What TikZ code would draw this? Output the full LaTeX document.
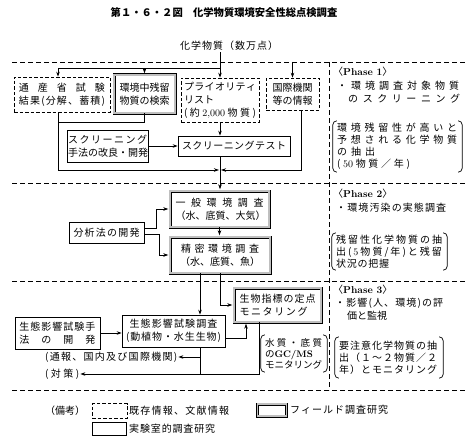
\documentclass[tikz,border=0pt]{standalone}
\usepackage{fontspec}
\newfontfamily\jp{Noto Sans CJK JP}
\usetikzlibrary{arrows.meta}
\makeatletter
\def\sp@next#1{\ifx\relax#1\else\hfil#1\expandafter\sp@next\fi}
\def\sp@first#1{#1\sp@next}
\newcommand\spread[2]{\makebox[#1][s]{\sp@first#2\relax}}
\makeatother
\newcommand\parens[1]{%
  \draw[pline,rounded corners=4pt] ([xshift=4pt]#1.north west) -- (#1.north west) -- (#1.south west) -- ([xshift=4pt]#1.south west);
  \draw[pline,rounded corners=4pt] ([xshift=-4pt]#1.north east) -- (#1.north east) -- (#1.south east) -- ([xshift=-4pt]#1.south east);}
\begin{document}
\begin{tikzpicture}[x=1pt,y=-1pt,
  jt/.style={font=\jp\fontsize{10}{13}\selectfont, inner sep=1pt, align=left},
  dbox/.style={jt, draw, line width=0.7pt, dash pattern=on 3.5pt off 2pt},
  sbox/.style={jt, draw, line width=0.7pt},
  fbox/.style={jt, draw, line width=0.6pt, double=gray!50, double distance=1.8pt},
  pblock/.style={jt, inner xsep=4pt, inner ysep=0pt, font=\jp\fontsize{10}{12}\selectfont},
  conn/.style={line width=0.7pt},
  arr/.style={conn, -{Stealth[length=5pt,width=3.5pt]}},
  farr/.style={arr, shorten >=1.4pt},
  sep/.style={line width=0.7pt, dash pattern=on 5pt off 3pt},
  pline/.style={line width=0.7pt}]
\useasboundingbox (0,0) rectangle (466,444);

% title
\node[font=\jp\bfseries\fontsize{10.3}{12}\selectfont, inner sep=0] (title) at (224,13) {第１・６・２図　化学物質環境安全性総点検調査};
\node[jt] (chem) at (229,46) {\spread{98pt}{化学物質（数万点）}};

% separators
\coordinate (s1) at (12,62);
\draw[sep] (s1) -- (466,62);
\draw[sep] (12,183) -- (466,183);
\draw[sep] (12,281) -- (466,281);
\draw[sep] (12,390) -- (466,390);
\draw[sep] (329,62) -- (329,390);

% phase 1 boxes
\node[dbox, minimum width=96pt, minimum height=35pt] (ts) at (62,94.5) {\spread{86pt}{通産省試験}\\\spread{86pt}{結果(分解、蓄積)}};
\node[fbox, minimum width=61pt, minimum height=38pt] (zr) at (144.5,94) {環境中残留\\物質の検索};
\node[dbox, minimum width=78pt, minimum height=44pt] (pri) at (220,100) {\spread{72pt}{プライオリティ}\\リスト\\\spread{72pt}{(約{{\rmfamily 2,000}}物質)}};
\node[dbox, minimum width=53pt, minimum height=32pt] (kk) at (292.5,94) {国際機関\\等の情報};
\node[sbox, minimum width=81pt, minimum height=32pt] (meth) at (107.5,146) {\spread{79pt}{スクリーニング}\\\spread{79pt}{手法の改良・開発}};
\node[sbox, minimum width=112pt, minimum height=20pt] (test) at (234,146) {\spread{104pt}{スクリーニングテスト}};

% phase 2 boxes
\node[fbox, minimum width=99pt, minimum height=36pt] (ippan) at (219.5,209) {\spread{88pt}{一般環境調査}\\\spread{88pt}{（水、底質、大気）}};
\node[fbox, minimum width=100pt, minimum height=36pt, align=center] (seim) at (220,255) {\spread{78pt}{精密環境調査}\\（水、底質、魚）};
\node[sbox, minimum width=75pt, minimum height=21pt] (bun) at (106.5,232.5) {\spread{66pt}{分析法の開発}};

% phase 3 boxes
\node[fbox, minimum width=87pt, minimum height=34pt] (shi) at (277.5,305) {\spread{76pt}{生物指標の定点}\\\spread{68pt}{モニタリング}};
\node[sbox, minimum width=103pt, minimum height=32pt, align=center] (cho) at (173.5,331) {\spread{88pt}{生態影響試験調査}\\\spread{95pt}{(動植物・水生生物)}};
\node[sbox, minimum width=85pt, minimum height=32pt] (shu) at (57.5,333) {\spread{76pt}{生態影響試験手}\\\spread{76pt}{法の開発}};
\node[jt, anchor=west] (tsuho) at (44,357) {\spread{132pt}{(通報、国内及び国際機関)}};
\node[jt, anchor=west] (taisaku) at (44,374) {\spread{34pt}{(対策)}};
\node[pblock, text width=58pt, minimum height=37pt, font=\jp\fontsize{9.5}{11}\selectfont] (gc) at (294,353.5) {\spread{57pt}{水質・底質}\\の{\rmfamily\bfseries GC/MS}\\\spread{57pt}{モニタリング}};
\parens{gc}

% right panel
\node[jt, anchor=west, inner sep=0] (ph1) at (333,72) {〈{\rmfamily\bfseries Phase 1}〉};
\node[jt, anchor=west, inner sep=0] (ph1a) at (337,86) {\spread{122pt}{・環境調査対象物質}};
\node[jt, anchor=west, inner sep=0] (ph1b) at (348,99) {\spread{112pt}{のスクリーニング}};
\node[pblock, text width=121pt, minimum height=51pt] (p1) at (397.5,146.5) {\spread{120pt}{環境残留性が高いと}\\\spread{120pt}{予想される化学物質}\\\spread{38pt}{の抽出}\\\spread{73pt}{({{\rmfamily 50}}物質／年)}};
\parens{p1}

\node[jt, anchor=west, inner sep=0] (ph2) at (333,194) {〈{\rmfamily\bfseries Phase 2}〉};
\node[jt, anchor=west, inner sep=0] (ph2a) at (336,208) {\spread{110pt}{・環境汚染の実態調査}};
\node[pblock, text width=107pt, minimum height=37pt] (p2) at (389.5,251.5) {\spread{106pt}{残留性化学物質の抽}\\\spread{106pt}{出({{\rmfamily 5}}物質/年)と残留}\\\spread{53pt}{状況の把握}};
\parens{p2}

\node[jt, anchor=west, inner sep=0] (ph3) at (333,290) {〈{\rmfamily\bfseries Phase 3}〉};
\node[jt, anchor=west, inner sep=0] (ph3a) at (335,303) {\spread{108pt}{・影響(人、環境)の評}};
\node[jt, anchor=west, inner sep=0] (ph3b) at (347,316) {\spread{40pt}{価と監視}};
\node[pblock, text width=100pt, minimum height=41pt] (p3) at (389,357.5) {\spread{98pt}{要注意化学物質の抽}\\\spread{98pt}{出（１～２物質／２}\\\spread{98pt}{年）とモニタリング}};
\parens{p3}

% legend
\node[jt, anchor=west] (bk) at (44,411) {（備考）};
\node[dbox, minimum width=35pt, minimum height=15pt] (lg1) at (109.5,411) {};
\node[jt, anchor=west] (lt1) at (128,411) {\spread{100pt}{既存情報、文献情報}};
\node[fbox, minimum width=29pt, minimum height=12pt] (lg2) at (272,410) {};
\node[jt, anchor=west] (lt2) at (289,410) {\spread{98pt}{フィールド調査研究}};
\node[sbox, minimum width=34pt, minimum height=13pt] (lg3) at (109.5,429) {};
\node[jt, anchor=west] (lt3) at (128,429) {\spread{86pt}{実験室的調査研究}};

% connectors
\coordinate (jA) at (220,68);
\coordinate (jB) at (220,170);
\coordinate (vx) at (200,0);
\draw[arr] (chem.south -| pri.north) -- (pri.north);
\draw[arr] (jA) -| ([xshift=-4pt]ts.north);
\draw[farr] (jA -| zr.north) -- (zr.north);
\draw[arr] (kk.north |- s1) -- (kk.north);
\draw[arr] ([xshift=-4pt]ts.south) |- ([xshift=-1pt]jB);
\draw[conn] (zr.south) -- ++(0,9) -| ([xshift=-4pt]ts.south);
\draw[arr] ([xshift=8.5pt]kk.south) |- ([xshift=1pt]jB);
\draw[arr] (pri.south) -- (pri.south |- test.north);
\draw[arr] (meth.east) -- (meth.east -| test.west);
\draw[farr] (pri.south |- test.south) -- (pri.south |- ippan.north);
\draw[farr] (ippan.south) -- (ippan.south |- seim.north);
\draw[farr] ([yshift=4.5pt]bun.east) -- ++(12,0) |- (ippan.west);
\draw[farr] ([yshift=-1.5pt]bun.east) -- ++(15,0) |- (seim.west);
\draw[arr] (seim.south -| vx) -- (cho.north -| vx);
\draw[farr] (seim.south) |- (shi.west);
\draw[farr] ([yshift=-7pt]cho.east) -| ([xshift=-31.5pt]shi.south);
\draw[arr] (shu.east) -- (shu.east -| cho.west);
\draw[conn] (cho.south -| vx) -- (taisaku.east -| vx);
\draw[arr] (tsuho.east -| vx) -- (tsuho.east);
\draw[arr] ([xshift=-18.5pt]shi.south) |- (taisaku.east);
\end{tikzpicture}
\end{document}
